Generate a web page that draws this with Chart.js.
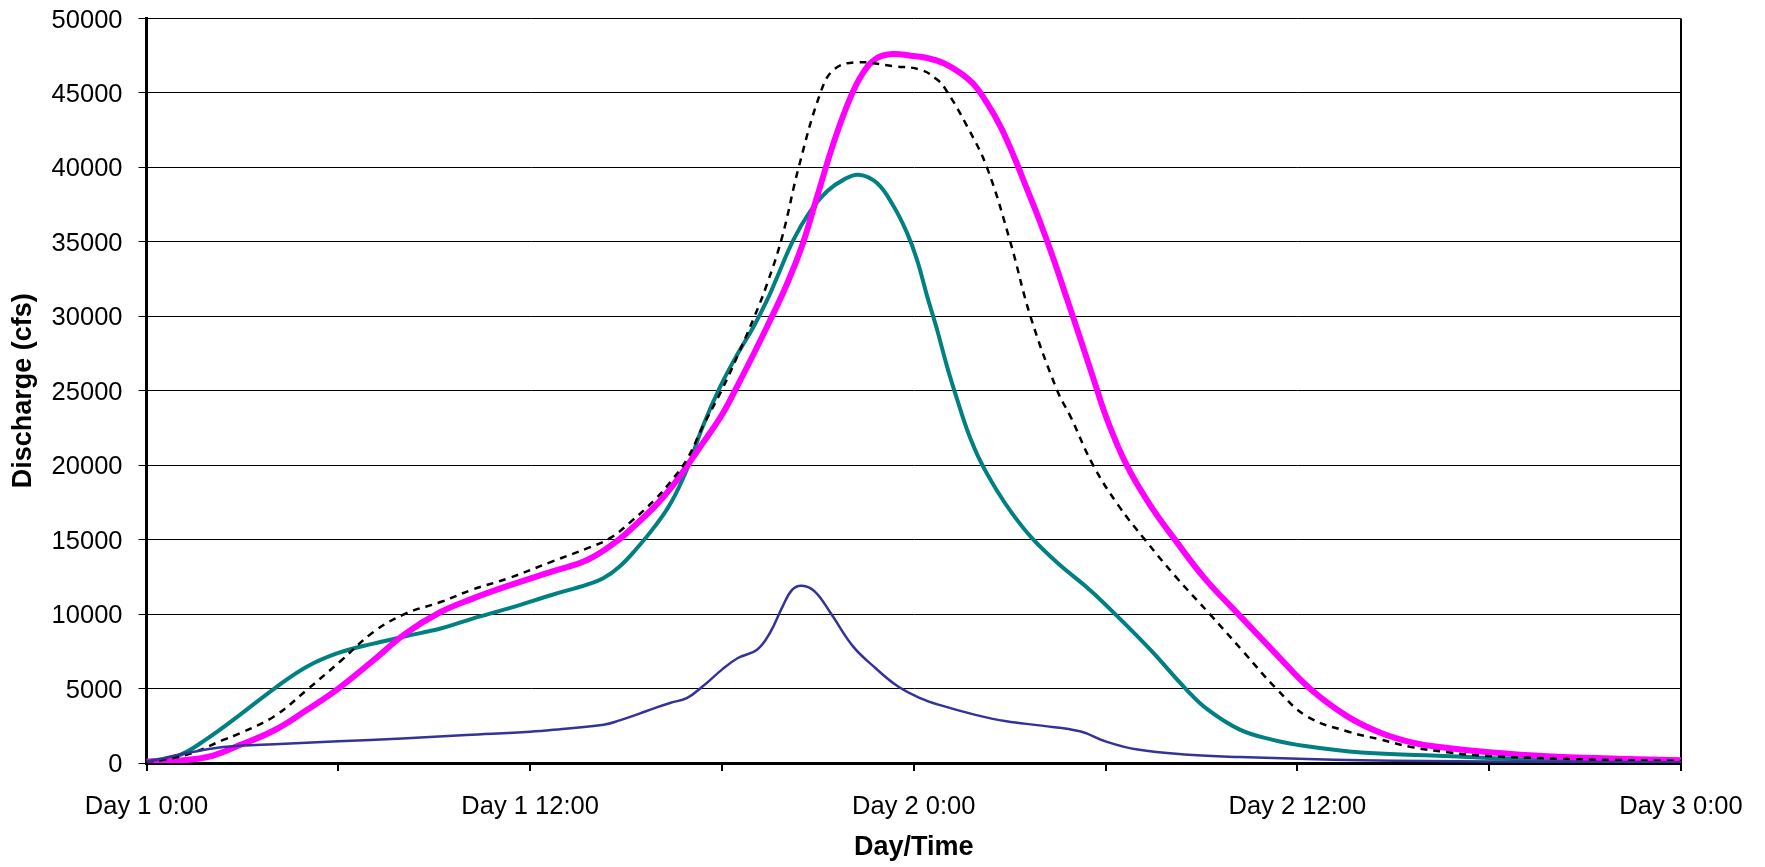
<!DOCTYPE html>
<html>
<head>
<meta charset="utf-8">
<script src="https://cdn.jsdelivr.net/npm/chart.js@4.4.1/dist/chart.umd.min.js"></script>
<style>
  html, body { margin: 0; padding: 0; background: #ffffff; }
  #wrap { width: 1765px; height: 867px; position: relative; }
</style>
</head>
<body>
<div id="wrap"><canvas id="chart"></canvas></div>
<script>
// ---- Tick labels (hours 0, 12, 24, 36, 48) ----
const xTickLabels = ['Day 1 0:00', 'Day 1 12:00', 'Day 2 0:00', 'Day 2 12:00', 'Day 3 0:00'];
const xAxisTitle = 'Day/Time';
const yAxisTitle = 'Discharge (cfs)';

// ---- Series: hours since Day 1 0:00 and discharge (cfs) ----
const blueHours = [0, 0.5, 1, 1.4, 2, 2.4, 3, 4, 6, 8, 10, 12, 13, 14.3, 14.8, 15.4, 15.9, 16.4, 16.9, 17.4, 18, 18.5, 19.1, 19.5, 19.9, 20.2, 20.5, 20.9, 21.4, 22.1, 22.8, 23.5, 24.2, 24.8, 25.9, 26.9, 28, 29.2, 30, 31, 32.6, 34.2, 36.3, 38, 40, 44, 48];
const blueCfs   = [100, 300, 560, 720, 950, 1070, 1170, 1260, 1460, 1640, 1880, 2100, 2290, 2570, 2860, 3300, 3690, 4050, 4360, 5150, 6270, 7050, 7610, 8730, 10520, 11640, 11910, 11530, 10070, 7830, 6380, 5150, 4360, 3900, 3250, 2800, 2510, 2130, 1450, 900, 560, 400, 270, 180, 130, 80, 50];

const tealHours = [0, 1, 1.9, 2.9, 4, 5, 6, 7.1, 8.1, 9.2, 10.2, 11.3, 12.7, 13.8, 14.3, 14.8, 15.3, 15.9, 16.4, 16.9, 17.4, 17.95, 18.47, 18.99, 19.46, 19.72, 20.24, 20.76, 21.29, 21.81, 22.28, 22.85, 23.37, 23.79, 24.1, 24.42, 24.73, 25.04, 25.36, 25.7, 26.1, 26.6, 27.1, 27.7, 28.5, 29.5, 30.3, 31.4, 32.5, 33.2, 34.2, 35.2, 36.3, 38, 40, 42, 44, 46, 48];
const tealCfs   = [100, 500, 1640, 3200, 5000, 6450, 7390, 8020, 8510, 9030, 9700, 10370, 11300, 12000, 12420, 13200, 14320, 15890, 17460, 19700, 22600, 25290, 27400, 29300, 31300, 32600, 35150, 37050, 38400, 39180, 39510, 38950, 37390, 35600, 33800, 31340, 29100, 26640, 24400, 22200, 20200, 18300, 16700, 15100, 13430, 11640, 10000, 7610, 5000, 3580, 2240, 1570, 1120, 700, 520, 340, 180, 110, 70];

const magentaHours = [0, 0.8, 1.9, 2.9, 4, 5, 6, 7.1, 8.1, 9.2, 10.2, 11.3, 12.7, 13.8, 14.7, 15.3, 15.9, 16.4, 16.9, 17.4, 18, 18.5, 19, 19.5, 20, 20.5, 21, 21.5, 22, 22.4, 22.85, 23.37, 23.9, 24.42, 24.94, 25.46, 25.88, 26.29, 26.71, 27.13, 27.55, 27.96, 28.38, 28.8, 29.22, 29.63, 30.05, 30.66, 31.4, 32.17, 33.1, 34.15, 35.3, 36.39, 37.55, 38.6, 39.64, 40.7, 42, 43.8, 46, 48];
const magentaCfs   = [100, 130, 400, 1190, 2200, 3540, 5000, 6900, 8690, 10140, 11040, 11890, 12870, 13650, 14880, 16000, 17230, 18460, 19920, 21480, 23390, 25400, 27500, 29700, 32000, 34700, 38200, 41700, 44600, 46300, 47350, 47620, 47500, 47350, 47000, 46340, 45560, 44330, 42760, 40750, 38500, 36280, 33800, 31120, 28430, 25750, 23060, 20000, 17300, 15000, 12400, 10000, 7400, 5000, 3150, 2030, 1350, 1010, 720, 450, 290, 180];

const dottedHours = [0, 0.5, 1.4, 2.4, 2.9, 4, 5, 6.1, 7.1, 8.1, 9.2, 10.2, 11.3, 12.7, 13.8, 14.5, 15.1, 15.9, 16.4, 16.9, 17.4, 18, 18.5, 19, 19.4, 19.88, 20.4, 21.08, 21.5, 22.2, 23.37, 24.2, 24.73, 25.04, 25.67, 26.29, 27.02, 27.65, 28.49, 28.9, 29.61, 30.4, 31.23, 32.2, 33.26, 34.3, 35.34, 36.3, 37.6, 38.6, 39.6, 40.7, 41.7, 44, 46, 48];
const dottedCfs   = [100, 200, 650, 1550, 1970, 3140, 4880, 6900, 8800, 10030, 10810, 11650, 12390, 13540, 14430, 15100, 16110, 17680, 18910, 20370, 22600, 25070, 27400, 29900, 32100, 35300, 40000, 45000, 46570, 47060, 46790, 46570, 45900, 45100, 42760, 40000, 35000, 30000, 25000, 23280, 20000, 17300, 15000, 12500, 10000, 7500, 5000, 3130, 2100, 1575, 1060, 720, 500, 300, 200, 150];

function pts(hours, values) { return hours.map((h, i) => ({ x: h, y: values[i] })); }

Chart.defaults.font.family = "'Liberation Sans', Arial, Helvetica, sans-serif";
Chart.defaults.color = '#000000';

const lineBase = { pointRadius: 0, pointHoverRadius: 0, fill: false, tension: 0.4, cubicInterpolationMode: 'default', borderCapStyle: 'butt', borderJoinStyle: 'round' };

new Chart(document.getElementById('chart'), {
  type: 'line',
  data: {
    datasets: [
      Object.assign({ label: 'Series 1', data: pts(blueHours, blueCfs), borderColor: '#333399', borderWidth: 2.5, order: 0 }, lineBase),
      Object.assign({ label: 'Series 2', data: pts(dottedHours, dottedCfs), borderColor: '#000000', borderWidth: 2.5, borderDash: [7, 6], order: 1 }, lineBase),
      Object.assign({ label: 'Series 3', data: pts(magentaHours, magentaCfs), borderColor: '#FF00FF', borderWidth: 6, order: 2 }, lineBase),
      Object.assign({ label: 'Series 4', data: pts(tealHours, tealCfs), borderColor: '#008080', borderWidth: 4, order: 3 }, lineBase)
    ]
  },
  options: {
    responsive: true,
    maintainAspectRatio: false,
    animation: false,
    devicePixelRatio: 1,
    layout: { padding: { top: 18.5, right: 84, bottom: 0, left: 0 } },
    plugins: { legend: { display: false }, tooltip: { enabled: false }, title: { display: false } },
    scales: {
      x: {
        type: 'linear',
        min: 0, max: 48,
        afterFit: (s) => { s.height = 104; s.paddingLeft = 0; s.paddingRight = 0; },
        border: { display: true, color: '#000000', width: 3 },
        grid: {
          drawOnChartArea: true,
          drawTicks: true,
          tickLength: 8,
          lineWidth: 2,
          color: (ctx) => (ctx.tick && ctx.tick.value === 48 ? '#000000' : 'rgba(0,0,0,0)'),
          tickColor: '#000000'
        },
        ticks: {
          stepSize: 6,
          autoSkip: false,
          maxRotation: 0,
          padding: 21,
          font: { size: 25.5 },
          color: '#000000',
          callback: (v) => (v % 12 === 0 ? xTickLabels[v / 12] : '')
        },
        title: { display: true, text: xAxisTitle, font: { size: 27, weight: 'bold' }, color: '#000000', padding: { top: 0, bottom: 3 } }
      },
      y: {
        type: 'linear',
        min: 0, max: 50000,
        afterFit: (s) => { s.width = 146.5; s.paddingTop = 0; s.paddingBottom = 0; },
        border: { display: true, color: '#000000', width: 3 },
        grid: { color: '#000000', lineWidth: 1, drawTicks: true, tickLength: 8, tickColor: '#000000' },
        ticks: {
          stepSize: 5000,
          padding: 16,
          labelOffset: 2,
          font: { size: 25.5 },
          color: '#000000',
          callback: (v) => String(v)
        },
        title: { display: true, text: yAxisTitle, font: { size: 27, weight: 'bold' }, color: '#000000', padding: { top: 7, bottom: 0 } }
      }
    }
  }
});
</script>
</body>
</html>
